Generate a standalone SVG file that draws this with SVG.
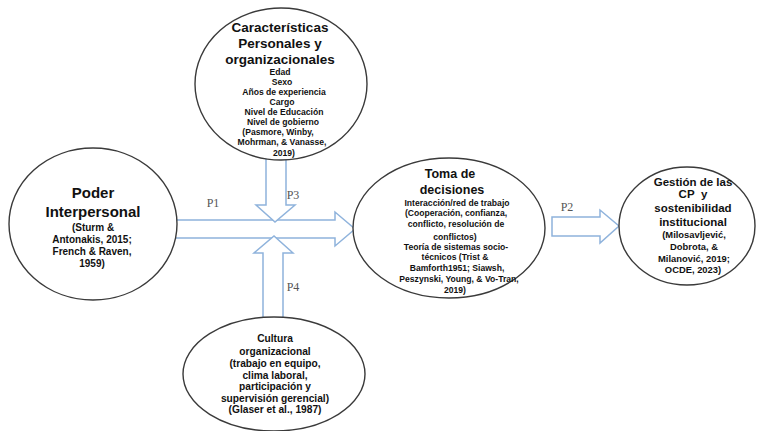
<svg xmlns="http://www.w3.org/2000/svg" width="757" height="431" viewBox="0 0 757 431">
<style>
.node{fill:#fff;stroke:#3a3a3a;stroke-width:1.4}
.arr{fill:#fff;stroke:#8fb3dc;stroke-width:1.5;stroke-linejoin:miter}
text{font-family:"Liberation Sans",Arial,sans-serif;font-weight:bold;fill:#111;text-anchor:middle}
.t1{font-size:13.5px}
.t0{font-size:15px}
.tm{font-size:12.5px}
.t2{font-size:11.5px}
.s1{font-size:8.6px}
.s2{font-size:10px}
.s3{font-size:8.6px}
.s4{font-size:9.4px}
.s5{font-size:10.2px}
.lab{font-family:"Liberation Serif","Times New Roman",serif;font-weight:normal;font-size:12px;fill:#555}
</style>
<rect width="757" height="431" fill="#fff"/>
<g id="connectors">
<polygon class="arr" points="150,220 335,220 335,212 355,229 335,246 335,238 150,238"/>
<polygon class="arr" points="266,140 286,140 286,205 295,205 275,222 256,205 266,205"/>
<polygon class="arr" points="263,330 283,330 283,253 293,253 274,236 254,253 263,253"/>
<polygon class="arr" points="552,217 600,217 600,210 619,226 600,243 600,236 552,236"/>
<text class="lab" x="213" y="207">P1</text>
<text class="lab" x="293" y="199">P3</text>
<text class="lab" x="293" y="291">P4</text>
<text class="lab" x="567" y="211">P2</text>
</g>
<g id="node-caracteristicas">
<ellipse class="node" cx="281" cy="84" rx="86" ry="76"/>
<text class="t1" x="280" y="32">Características</text>
<text class="t1" x="280" y="48">Personales y</text>
<text class="t1" x="280" y="64">organizacionales</text>
<text class="s1" x="280" y="75">Edad</text>
<text class="s1" x="282" y="85">Sexo</text>
<text class="s1" x="284" y="95">Años de experiencia</text>
<text class="s1" x="282" y="105">Cargo</text>
<text class="s1" x="284" y="115">Nivel de Educación</text>
<text class="s1" x="283" y="125">Nivel de gobierno</text>
<text class="s1" x="278" y="135">(Pasmore, Winby,</text>
<text class="s1" x="282" y="145">Mohrman, &amp; Vanasse,</text>
<text class="s1" x="284" y="156">2019)</text>
</g>
<g id="node-poder">
<ellipse class="node" cx="93" cy="224" rx="84" ry="76"/>
<text class="t0" x="93" y="198">Poder</text>
<text class="t0" x="93" y="217">Interpersonal</text>
<text class="s2" x="93" y="231">(Sturm &amp;</text>
<text class="s2" x="92" y="243">Antonakis, 2015;</text>
<text class="s2" x="92" y="255">French &amp; Raven,</text>
<text class="s2" x="92" y="267">1959)</text>
</g>
<g id="node-toma">
<ellipse class="node" cx="449" cy="228" rx="96" ry="70"/>
<text class="tm" x="450" y="178">Toma de</text>
<text class="tm" x="452" y="194">decisiones</text>
<text class="s3" x="457" y="206">Interacción/red de trabajo</text>
<text class="s3" x="456" y="216">(Cooperación, confianza,</text>
<text class="s3" x="456" y="227">conflicto, resolución de</text>
<text class="s3" x="455" y="240">conflictos)</text>
<text class="s3" x="456" y="250">Teoría de sistemas socio-</text>
<text class="s3" x="455" y="260">técnicos (Trist &amp;</text>
<text class="s3" x="457" y="271">Bamforth1951; Siawsh,</text>
<text class="s3" x="459" y="282">Peszynski, Young, &amp; Vo-Tran,</text>
<text class="s3" x="455" y="293">2019)</text>
</g>
<g id="node-gestion">
<ellipse class="node" cx="687" cy="226" rx="68" ry="59"/>
<text class="t2" x="693" y="186">Gestión de las</text>
<text class="t2" x="693" y="198">CP&#160; y</text>
<text class="t2" x="693" y="212">sostenibilidad</text>
<text class="t2" x="693" y="226">institucional</text>
<text class="s4" x="694" y="238">(Milosavljević,</text>
<text class="s4" x="694" y="250">Dobrota, &amp;</text>
<text class="s4" x="694" y="262">Milanović, 2019;</text>
<text class="s4" x="693" y="273">OCDE, 2023)</text>
</g>
<g id="node-cultura">
<ellipse class="node" cx="274" cy="374" rx="91" ry="57"/>
<text class="s5" x="275" y="342">Cultura</text>
<text class="s5" x="275" y="355">organizacional</text>
<text class="s5" x="275" y="367">(trabajo en equipo,</text>
<text class="s5" x="275" y="379">clima laboral,</text>
<text class="s5" x="275" y="390">participación y</text>
<text class="s5" x="275" y="402">supervisión gerencial)</text>
<text class="s5" x="275" y="413">(Glaser et al., 1987)</text>
</g>
</svg>
